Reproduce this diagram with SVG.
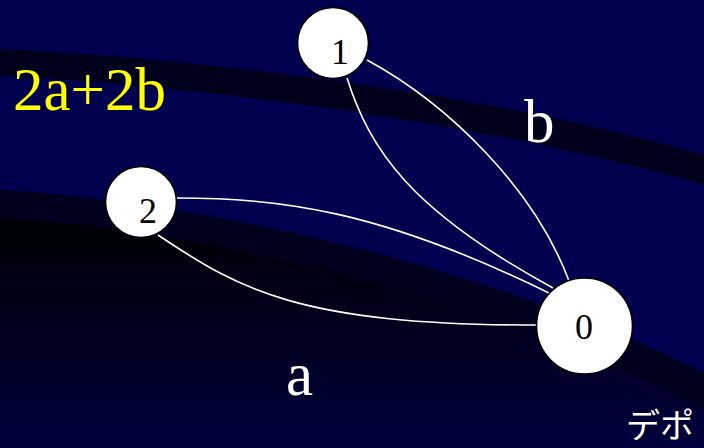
<svg xmlns="http://www.w3.org/2000/svg" width="704" height="448" viewBox="0 0 704 448">
  <defs>
    <linearGradient id="deep" x1="0" y1="240" x2="0" y2="448" gradientUnits="userSpaceOnUse">
      <stop offset="0" stop-color="#00000a"/>
      <stop offset="1" stop-color="#00003c"/>
    </linearGradient>
    <style>
      .edge { fill: none; stroke: #ffffff; stroke-width: 1.6; }
      .node circle { fill: #ffffff; stroke: #000000; stroke-width: 1.6; }
      .serif { font-family: "Liberation Serif", "Times New Roman", serif; }
      .nlabel { font-size: 36px; fill: #000000; text-anchor: middle; }
      .big { font-size: 61px; }
    </style>
  </defs>

  <g id="background">
    <rect x="0" y="0" width="704" height="448" fill="#00004f"/>
    <path d="M0,49 C200,58 500,95 704,155 L704,185 C500,125 200,85 0,76 Z" fill="#00001c"/>
    <path d="M0,190 C200,200 500,270 704,373 L704,448 L0,448 Z" fill="#00001e"/>
    <path d="M0,218 C200,228 500,300 704,410 L704,448 L0,448 Z" fill="url(#deep)"/>
  </g>

  <g id="connectors">
    <path class="edge" d="M367,60 C450,105 535,190 569,281"/>
    <path class="edge" d="M347,78 C370,150 410,210 553,288"/>
    <path class="edge" d="M176,198 C280,198 380,210 549,293"/>
    <path class="edge" d="M158,235 C240,290 300,325 537,325"/>
  </g>

  <g id="node-1" class="node">
    <circle cx="333" cy="43" r="35.5"/>
    <text class="serif nlabel" x="340" y="64">1</text>
  </g>
  <g id="node-2" class="node">
    <circle cx="141" cy="202" r="35.5"/>
    <text class="serif nlabel" x="148" y="223">2</text>
  </g>
  <g id="node-0" class="node">
    <circle cx="584.5" cy="326" r="48"/>
    <text class="serif nlabel" x="584" y="339">0</text>
  </g>

  <g id="labels">
    <text class="serif big" x="13" y="110" fill="#ffff00">2a+2b</text>
    <text class="serif big" x="524" y="142" fill="#ffffff">b</text>
    <text class="serif big" x="286" y="395" fill="#ffffff">a</text>
    <text x="626" y="438" font-family="'Noto Sans CJK JP', 'Noto Sans', sans-serif" font-size="34" fill="#ffffff">デポ</text>
  </g>
</svg>
